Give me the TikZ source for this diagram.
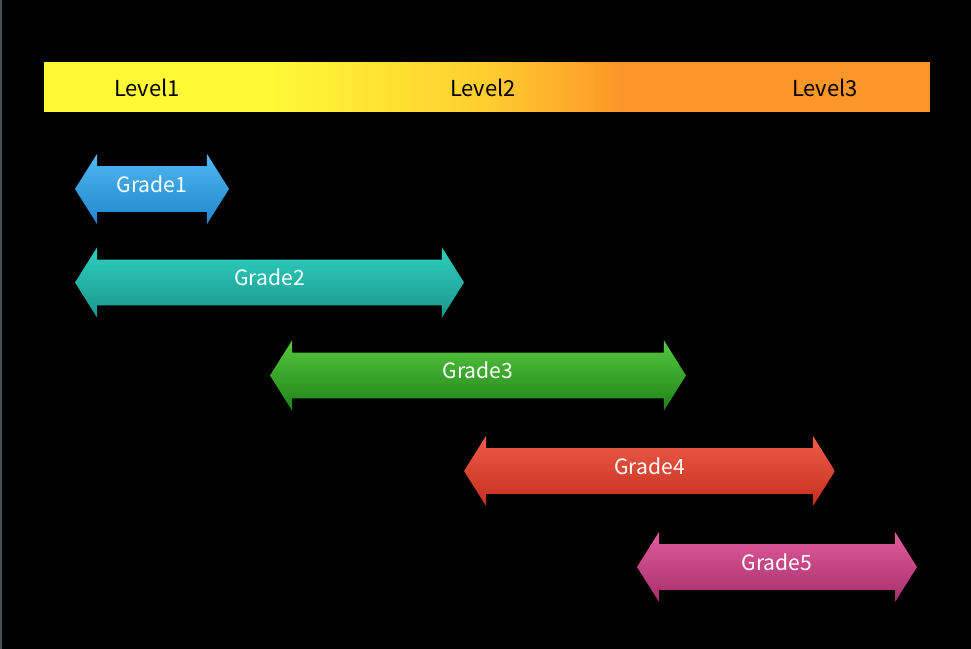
\documentclass[tikz,border=0pt]{standalone}
\usepackage{fontspec}
\setmainfont{Noto Sans CJK JP}
\usetikzlibrary{shapes.arrows}

\definecolor{lvyellow}{RGB}{255,248,53}
\definecolor{lvgold}{RGB}{255,205,48}
\definecolor{lvorange}{RGB}{253,150,40}
\definecolor{edgegray}{RGB}{74,79,85}
\definecolor{gOneTop}{RGB}{80,184,242}
\definecolor{gOneBot}{RGB}{31,134,204}
\definecolor{gTwoTop}{RGB}{45,208,192}
\definecolor{gTwoBot}{RGB}{28,149,140}
\definecolor{gThreeTop}{RGB}{85,200,63}
\definecolor{gThreeBot}{RGB}{31,130,24}
\definecolor{gFourTop}{RGB}{239,92,72}
\definecolor{gFourBot}{RGB}{196,46,31}
\definecolor{gFiveTop}{RGB}{226,92,158}
\definecolor{gFiveBot}{RGB}{166,46,106}

\pgfdeclarehorizontalshading{levelshade}{100bp}{color(0bp)=(lvyellow); color(38bp)=(lvyellow); color(50bp)=(lvgold); color(57.5bp)=(lvorange); color(100bp)=(lvorange)}

\begin{document}
\begin{tikzpicture}[x=0.02cm,y=-0.02cm,
grade/.style={shape=double arrow,double arrow head extend=0.25cm,
    double arrow tip angle=115.8,minimum height=#1,inner xsep=0pt,
    inner ysep=0.25cm,text height=0.26cm,text depth=0.14cm,
    text=white,font=\fontsize{12}{14}\selectfont},
level/.style={text=black,font=\fontsize{12.5}{14}\selectfont}
]
\useasboundingbox (0,0) rectangle (971,649);
\fill[black] (0,0) rectangle (971,649);
\draw[edgegray,line width=0.04cm] (1,0) -- (1,649);

\node[shading=levelshade,minimum width=17.72cm,minimum height=1cm,
      inner sep=0pt] (levelbar) at (487,87) {};
\node[level] (level1) at (147,88) {Level1};
\node[level] (level2) at (483,88) {Level2};
\node[level] (level3) at (825,88) {Level3};

\node[grade=3.08cm,top color=gOneTop,bottom color=gOneBot] (grade1) at (152,189) {Grade1};
\node[grade=7.78cm,top color=gTwoTop,bottom color=gTwoBot] (grade2) at (269.5,282.5) {Grade2};
\node[grade=8.32cm,top color=gThreeTop,bottom color=gThreeBot] (grade3) at (478,375.5) {Grade3};
\node[grade=7.42cm,top color=gFourTop,bottom color=gFourBot] (grade4) at (649.5,471) {Grade4};
\node[grade=5.6cm,top color=gFiveTop,bottom color=gFiveBot] (grade5) at (777,567) {Grade5};
\end{tikzpicture}
\end{document}
